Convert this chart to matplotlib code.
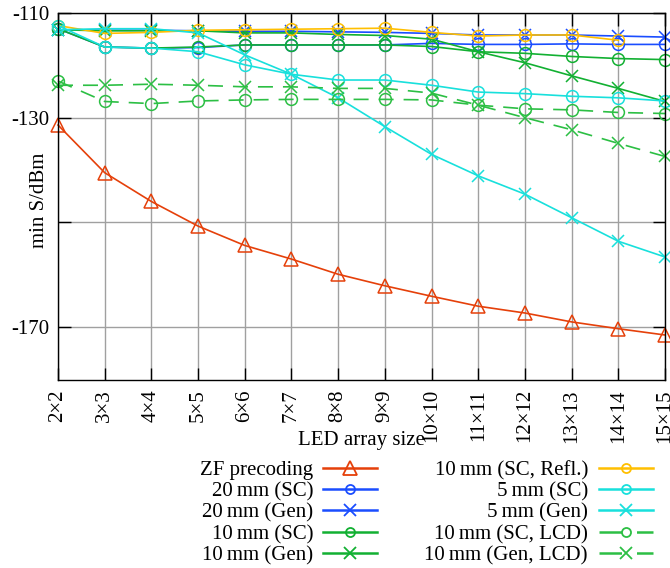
import numpy as np
import matplotlib
matplotlib.use("Agg")
import matplotlib.pyplot as plt
from matplotlib.lines import Line2D

plt.rcParams['font.family'] = ['Liberation Serif', 'DejaVu Serif']

categories = ["2×2", "3×3", "4×4", "5×5", "6×6", "7×7", "8×8", "9×9",
              "10×10", "11×11", "12×12", "13×13", "14×14", "15×15"]
ytick_values = [-110, -130, -150, -170]
ytick_labels = ['-110', '-130', '', '-170']

zf = [-131.4, -140.5, -146.0, -150.7, -154.4, -157.0, -159.9, -162.1,
      -164.1, -166.0, -167.3, -169.0, -170.3, -171.5]
mm20_sc = [-113.0, -116.5, -116.7, -116.6, -116.1, -116.1, -116.1, -116.1,
           -115.8, -116.0, -116.0, -115.9, -116.0, -116.0]
mm20_gen = [-113.2, -113.3, -113.3, -113.4, -113.5, -113.5, -113.6, -113.7,
            -113.9, -114.2, -114.2, -114.2, -114.4, -114.6]
mm10_sc = [-113.0, -116.5, -116.7, -116.5, -116.1, -116.1, -116.1, -116.1,
           -116.4, -117.4, -117.7, -118.3, -118.7, -118.9]
mm10_gen = [-113.2, -113.4, -113.4, -113.4, -113.8, -113.8, -114.1, -114.3,
            -115.0, -117.4, -119.5, -122.0, -124.4, -126.9]
mm10_refl = [-112.4, -113.9, -113.7, -113.3, -113.2, -113.1, -113.0, -112.9,
             -113.7, -114.4, -114.2, -114.2, -115.2, np.nan]
mm5_sc = [-112.4, -116.5, -116.7, -117.4, -119.9, -121.7, -122.8, -122.8,
          -123.8, -125.1, -125.4, -125.9, -126.2, -126.8]
mm5_gen = [-113.2, -113.0, -113.0, -113.8, -118.0, -121.7, -126.2, -131.7,
           -137.0, -141.1, -144.6, -149.1, -153.6, -156.6]
mm10_sc_lcd = [-123.0, -126.9, -127.3, -126.8, -126.6, -126.5, -126.5, -126.5,
               -126.6, -127.6, -128.3, -128.5, -129.0, -129.2]
mm10_gen_lcd = [-123.8, -123.8, -123.6, -123.8, -124.1, -124.1, -124.4, -124.4,
                -125.3, -127.6, -130.0, -132.3, -134.9, -137.4]

C_ZF = '#e5400a'
C_BLUE = '#1a4dff'
C_GREEN = '#12b032'
C_CYAN = '#18e0dc'
C_YEL = '#ffbf00'
C_GREEN_D = '#2cbf44'

W, H = 670, 568
fig = plt.figure(figsize=(W / 100, H / 100), dpi=100)
L, R, T, B = 58, 665, 13, 379.5
ax = fig.add_axes([L / W, 1 - B / H, (R - L) / W, (B - T) / H])

x = np.arange(len(categories))
FS = 15

series = [
    ("ZF precoding", zf, C_ZF, '-', '^', 9.5, 'none'),
    ("20\u2009mm (SC)", mm20_sc, C_BLUE, '-', 'o', 8.5, 'none'),
    ("20\u2009mm (Gen)", mm20_gen, C_BLUE, '-', 'x', 8.5, None),
    ("10\u2009mm (SC)", mm10_sc, C_GREEN, '-', 'o', 8.5, 'none'),
    ("10\u2009mm (Gen)", mm10_gen, C_GREEN, '-', 'x', 8.5, None),
    ("10\u2009mm (SC, Refl.)", mm10_refl, C_YEL, '-', 'o', 8.5, 'none'),
    ("5\u2009mm (SC)", mm5_sc, C_CYAN, '-', 'o', 8.5, 'none'),
    ("5\u2009mm (Gen)", mm5_gen, C_CYAN, '-', 'x', 8.5, None),
    ("10\u2009mm (SC, LCD)", mm10_sc_lcd, C_GREEN_D, (0, (9, 6)), 'o', 8.5, 'none'),
    ("10\u2009mm (Gen, LCD)", mm10_gen_lcd, C_GREEN_D, (0, (9, 6)), 'x', 8.5, None),
]

for lab, vals, c, ls, m, ms, mfc in series:
    kw = dict(color=c, linestyle=ls, linewidth=1.2, marker=m, markersize=ms,
              markeredgewidth=1.1, clip_on=False, zorder=3)
    if mfc is not None:
        kw['markerfacecolor'] = mfc
    ax.plot(x, vals, **kw)

ax.set_xlim(0, len(categories) - 1)
ax.set_ylim(-180, -110)
ax.set_yticks(ytick_values)
ax.set_yticklabels(ytick_labels, fontsize=FS)
ax.set_xticks(x)
ax.set_xticklabels(categories, rotation=90, fontsize=FS)
ax.grid(True, color='#a0a0a0', linewidth=1.0, zorder=0)
ax.set_axisbelow(True)
ax.tick_params(axis='both', direction='in', length=9, width=1.0,
               top=True, right=True, pad=6)
ax.tick_params(axis='x', pad=7)
for s in ax.spines.values():
    s.set_linewidth(1.0)
    s.set_zorder(4)

fig.text(361.5 / W, 1 - 440 / H, "LED array size", ha='center', va='center', fontsize=FS)
fig.text(40 / W, 1 - 200 / H, "min S/dBm", ha='center', va='center',
         rotation=90, fontsize=FS)

# legend (gnuplot style: right-aligned labels, then sample)
rows = [468, 489, 510, 532, 553]
cols = [(313, 323, 377), (588, 599, 653)]
for i, (lab, vals, c, ls, m, ms, mfc) in enumerate(series):
    col, row = divmod(i, 5)
    tx, x1, x2 = cols[col]
    yy = 1 - rows[row] / H
    fig.text(tx / W, yy, lab, ha='right', va='center_baseline', fontsize=FS)
    lms = {'^': 9.5, 'o': 6.5, 'x': 8.5}[m]
    ln = Line2D([x1 / W, x2 / W], [yy, yy], transform=fig.transFigure,
                color=c, linestyle=ls, linewidth=1.8)
    fig.add_artist(ln)
    mk = Line2D([(x1 + x2) / 2 / W], [yy], transform=fig.transFigure,
                color=c, marker=m, markersize=lms, markeredgewidth=1.3,
                markerfacecolor='none' if m != 'x' else c, linestyle='none')
    fig.add_artist(mk)

fig.savefig("out.png", dpi=100)
